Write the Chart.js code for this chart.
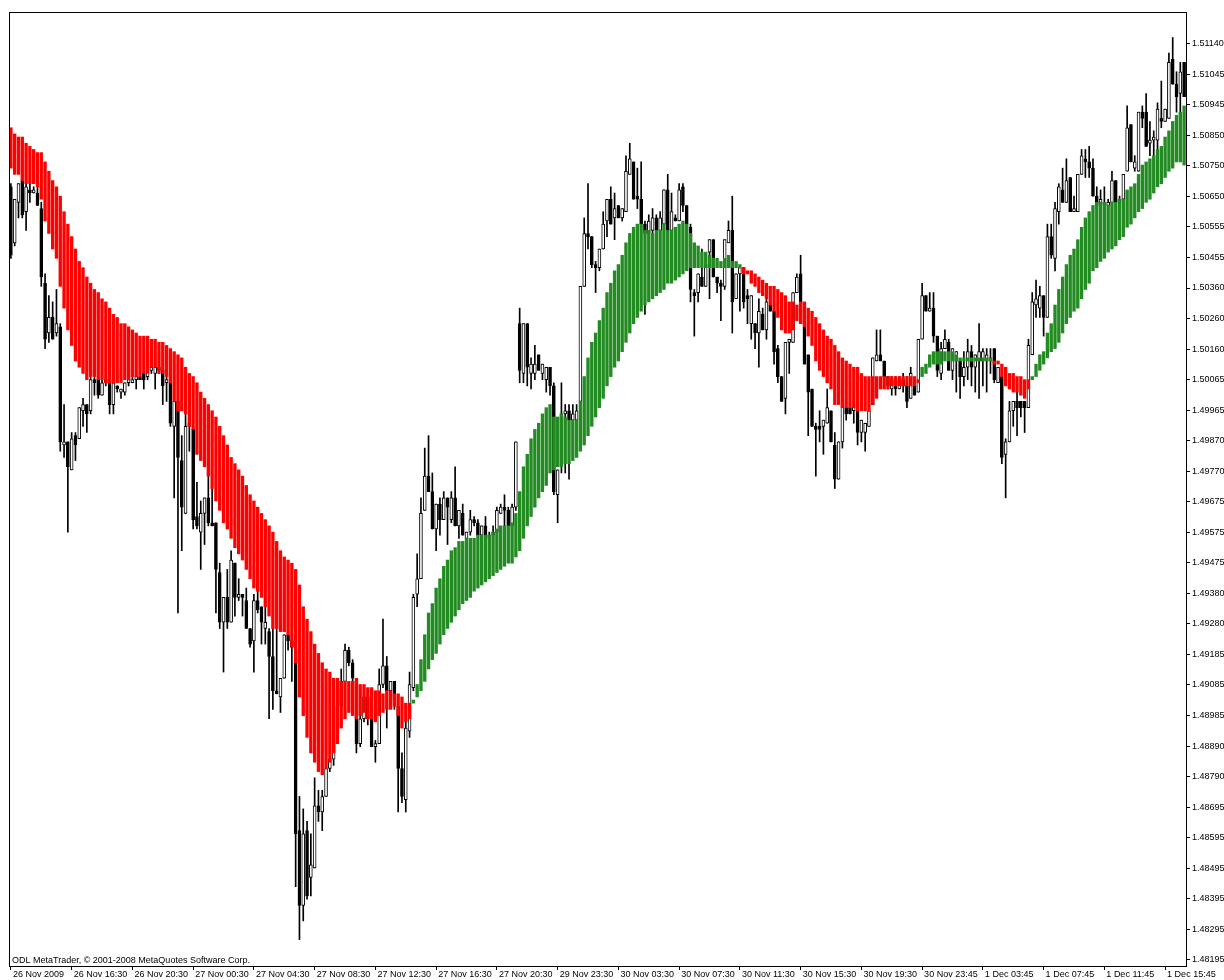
<!DOCTYPE html>
<html>
<head>
<meta charset="utf-8">
<title>EURUSD M15 - Heiken Ashi Smoothed</title>
<script src="https://cdn.jsdelivr.net/npm/chart.js@4"></script>
<style>
  html, body { margin: 0; padding: 0; background: #fff; }
  canvas { display: block; }
</style>
</head>
<body>
<canvas id="chart" width="1224" height="980"></canvas>
<script>
const xTickLabels = ["26 Nov 2009","26 Nov 16:30","26 Nov 20:30","27 Nov 00:30","27 Nov 04:30","27 Nov 08:30","27 Nov 12:30","27 Nov 16:30","27 Nov 20:30","29 Nov 23:30","30 Nov 03:30","30 Nov 07:30","30 Nov 11:30","30 Nov 15:30","30 Nov 19:30","30 Nov 23:45","1 Dec 03:45","1 Dec 07:45","1 Dec 11:45","1 Dec 15:45"];
const yTickLabels = ["1.48195","1.48295","1.48395","1.48495","1.48595","1.48695","1.48790","1.48890","1.48985","1.49085","1.49185","1.49280","1.49380","1.49475","1.49575","1.49675","1.49770","1.49870","1.49965","1.50065","1.50160","1.50260","1.50360","1.50455","1.50555","1.50650","1.50750","1.50850","1.50945","1.51045","1.51140"];
const yMin = 1.48175, yMax = 1.51242;
const copyright = "ODL MetaTrader, \u00a9 2001-2008 MetaQuotes Software Corp.";

// price candles, 15 min bars
const opens = [
1.5068,1.5050,1.5063,1.5070,1.5060,1.5067,1.5066,1.5066,1.5061,1.5037,
1.5021,1.5026,1.5021,1.5023,1.4985,1.4986,1.4977,1.4988,1.4987,1.4996,
1.4998,1.4996,1.5006,1.5006,1.5001,1.5005,1.5006,1.4998,1.5004,1.5002,
1.5002,1.5005,1.5005,1.5006,1.5007,1.5008,1.5007,1.5009,1.5008,1.5010,
1.5009,1.5005,1.5005,1.4991,1.4999,1.4980,1.4963,1.4991,1.4990,1.4962,
1.4957,1.4963,1.4968,1.4960,1.4960,1.4944,1.4928,1.4936,1.4928,1.4947,
1.4936,1.4937,1.4935,1.4926,1.4922,1.4935,1.4933,1.4926,1.4925,1.4917,
1.4906,1.4904,1.4910,1.4924,1.4922,1.4919,1.4861,1.4837,1.4861,1.4846,
1.4849,1.4869,1.4867,1.4872,1.4881,1.4884,1.4892,1.4901,1.4909,1.4919,
1.4915,1.4909,1.4889,1.4897,1.4904,1.4897,1.4888,1.4889,1.4908,1.4914,
1.4906,1.4909,1.4901,1.4881,1.4871,1.4893,1.4907,1.4937,1.4942,1.4964,
1.4975,1.4970,1.4958,1.4966,1.4961,1.4968,1.4961,1.4968,1.4959,1.4963,
1.4955,1.4957,1.4961,1.4960,1.4956,1.4959,1.4956,1.4956,1.4957,1.4963,
1.4965,1.4964,1.4959,1.4965,1.5024,1.5008,1.5024,1.5008,1.5008,1.5014,
1.5008,1.5006,1.5010,1.5004,1.4969,1.4978,1.4995,1.4996,1.4993,1.4993,
1.4999,1.5036,1.5053,1.5052,1.5043,1.5042,1.5048,1.5057,1.5064,1.5058,
1.5062,1.5058,1.5060,1.5072,1.5076,1.5065,1.5064,1.5056,1.5053,1.5054,
1.5058,1.5054,1.5056,1.5067,1.5054,1.5058,1.5057,1.5068,1.5062,1.5055,
1.5034,1.5034,1.5039,1.5036,1.5047,1.5051,1.5039,1.5037,1.5036,1.5050,
1.5054,1.5032,1.5040,1.5042,1.5033,1.5024,1.5024,1.5021,1.5027,1.5022,
1.5030,1.5028,1.5016,1.5007,1.5000,1.5018,1.5018,1.5034,1.5040,1.5023,
1.5014,1.5003,1.4991,1.4991,1.4991,1.4992,1.4996,1.4985,1.4974,1.4986,
1.4997,1.4997,1.4996,1.4996,1.4989,1.4989,1.4991,1.4998,1.5012,1.5014,
1.5012,1.5007,1.5003,1.5006,1.5003,1.5006,1.5004,1.5000,1.5004,1.5002,
1.5019,1.5033,1.5028,1.5029,1.5020,1.5008,1.5016,1.5018,1.5009,1.5012,
1.5012,1.5007,1.5010,1.5015,1.5010,1.5012,1.5012,1.5012,1.5012,1.5016,
1.5005,1.5007,1.4982,1.4986,1.4996,1.4999,1.4999,1.4999,1.4997,1.5014,
1.5030,1.5029,1.5033,1.5026,1.5052,1.5045,1.5060,1.5067,1.5063,1.5071,
1.5060,1.5060,1.5072,1.5077,1.5076,1.5074,1.5065,1.5063,1.5063,1.5062,
1.5063,1.5070,1.5063,1.5064,1.5073,1.5088,1.5074,1.5073,1.5092,1.5092,
1.5082,1.5083,1.5083,1.5090,1.5089,1.5090,1.5109,1.5101,1.5098,1.5108];
const highs = [
1.5069,1.5064,1.5069,1.5071,1.5069,1.5069,1.5068,1.5068,1.5063,1.5040,
1.5033,1.5031,1.5035,1.5024,1.4998,1.4986,1.4989,1.4989,1.4997,1.5000,
1.4998,1.5007,1.5007,1.5006,1.5006,1.5007,1.5006,1.5005,1.5004,1.5003,
1.5005,1.5006,1.5007,1.5007,1.5008,1.5008,1.5009,1.5010,1.5010,1.5010,
1.5009,1.5007,1.5005,1.4999,1.4999,1.4988,1.4995,1.4995,1.4990,1.4973,
1.4967,1.4968,1.4975,1.4971,1.4960,1.4947,1.4936,1.4945,1.4951,1.4947,
1.4942,1.4937,1.4939,1.4926,1.4937,1.4938,1.4933,1.4936,1.4926,1.4926,
1.4926,1.4910,1.4924,1.4925,1.4924,1.4919,1.4872,1.4868,1.4864,1.4860,
1.4878,1.4874,1.4874,1.4881,1.4885,1.4893,1.4903,1.4913,1.4921,1.4920,
1.4916,1.4910,1.4903,1.4905,1.4906,1.4898,1.4890,1.4913,1.4929,1.4917,
1.4909,1.4909,1.4903,1.4886,1.4896,1.4912,1.4937,1.4950,1.4968,1.4984,
1.4988,1.4976,1.4966,1.4968,1.4970,1.4968,1.4970,1.4978,1.4964,1.4966,
1.4957,1.4964,1.4962,1.4961,1.4959,1.4962,1.4957,1.4959,1.4965,1.4966,
1.4969,1.4965,1.4966,1.4986,1.5029,1.5024,1.5024,1.5013,1.5017,1.5014,
1.5011,1.5010,1.5010,1.5005,1.4977,1.5005,1.4998,1.4998,1.4998,1.4998,
1.5036,1.5058,1.5069,1.5052,1.5044,1.5048,1.5060,1.5064,1.5068,1.5066,
1.5062,1.5061,1.5078,1.5082,1.5076,1.5074,1.5076,1.5057,1.5059,1.5061,
1.5059,1.5060,1.5067,1.5072,1.5066,1.5059,1.5069,1.5069,1.5062,1.5056,
1.5035,1.5040,1.5048,1.5043,1.5051,1.5051,1.5039,1.5038,1.5051,1.5057,
1.5065,1.5040,1.5042,1.5042,1.5035,1.5033,1.5024,1.5032,1.5029,1.5032,
1.5031,1.5028,1.5017,1.5007,1.5018,1.5019,1.5034,1.5040,1.5046,1.5023,
1.5014,1.5003,1.4992,1.4996,1.4993,1.5003,1.4996,1.4989,1.4986,1.4998,
1.4997,1.4998,1.4997,1.4996,1.4993,1.4992,1.4996,1.5013,1.5022,1.5022,
1.5012,1.5007,1.5007,1.5007,1.5007,1.5008,1.5007,1.5010,1.5004,1.5019,
1.5037,1.5033,1.5034,1.5034,1.5020,1.5018,1.5022,1.5019,1.5016,1.5015,
1.5012,1.5015,1.5019,1.5017,1.5014,1.5024,1.5016,1.5016,1.5016,1.5016,
1.5010,1.5007,1.4987,1.4999,1.4999,1.5003,1.4999,1.4999,1.5019,1.5034,
1.5038,1.5036,1.5033,1.5056,1.5056,1.5063,1.5069,1.5074,1.5077,1.5071,
1.5065,1.5072,1.5080,1.5080,1.5081,1.5077,1.5068,1.5067,1.5068,1.5064,
1.5073,1.5070,1.5065,1.5072,1.5094,1.5088,1.5078,1.5092,1.5094,1.5098,
1.5089,1.5086,1.5095,1.5102,1.5093,1.5111,1.5116,1.5105,1.5108,1.5108];
const lows = [
1.5045,1.5049,1.5058,1.5058,1.5054,1.5063,1.5066,1.5062,1.5036,1.5016,
1.5018,1.5019,1.5020,1.4983,1.4981,1.4957,1.4977,1.4980,1.4987,1.4991,
1.4989,1.4995,1.5001,1.5000,1.5001,1.5004,1.4995,1.4995,1.5002,1.5000,
1.5001,1.5004,1.5005,1.5003,1.5006,1.5003,1.5006,1.5008,1.5003,1.5008,
1.4998,1.4999,1.4991,1.4968,1.4931,1.4951,1.4963,1.4983,1.4958,1.4958,
1.4945,1.4953,1.4959,1.4959,1.4931,1.4926,1.4912,1.4926,1.4928,1.4930,
1.4935,1.4930,1.4926,1.4920,1.4912,1.4931,1.4921,1.4921,1.4897,1.4900,
1.4905,1.4899,1.4910,1.4919,1.4909,1.4843,1.4826,1.4832,1.4839,1.4840,
1.4849,1.4864,1.4861,1.4872,1.4880,1.4882,1.4889,1.4899,1.4909,1.4914,
1.4909,1.4886,1.4888,1.4896,1.4895,1.4888,1.4883,1.4889,1.4907,1.4894,
1.4903,1.4900,1.4867,1.4870,1.4867,1.4891,1.4906,1.4933,1.4942,1.4964,
1.4970,1.4958,1.4951,1.4956,1.4961,1.4953,1.4960,1.4959,1.4955,1.4956,
1.4954,1.4956,1.4959,1.4956,1.4955,1.4955,1.4955,1.4954,1.4956,1.4963,
1.4958,1.4956,1.4958,1.4964,1.5005,1.5005,1.5004,1.5003,1.5006,1.5009,
1.5006,1.5002,1.5001,1.4969,1.4960,1.4976,1.4976,1.4974,1.4992,1.4992,
1.4998,1.5036,1.5048,1.5042,1.5034,1.5041,1.5048,1.5052,1.5056,1.5051,
1.5058,1.5057,1.5060,1.5072,1.5064,1.5061,1.5056,1.5027,1.5052,1.5053,
1.5053,1.5053,1.5055,1.5053,1.5054,1.5057,1.5057,1.5060,1.5056,1.5031,
1.5020,1.5031,1.5036,1.5036,1.5032,1.5039,1.5034,1.5025,1.5035,1.5050,
1.5021,1.5032,1.5028,1.5029,1.5024,1.5019,1.5016,1.5010,1.5022,1.5019,
1.5028,1.5011,1.5005,1.4999,1.4995,1.5008,1.5018,1.5034,1.5024,1.5011,
1.4988,1.4991,1.4975,1.4986,1.4982,1.4992,1.4986,1.4971,1.4974,1.4984,
1.4993,1.4995,1.4992,1.4985,1.4986,1.4983,1.4991,1.4998,1.5012,1.5012,
1.5007,1.5003,1.5001,1.5001,1.5003,1.5002,1.4997,1.5000,1.5001,1.5002,
1.5019,1.5028,1.5028,1.5018,1.5007,1.5006,1.5016,1.5009,1.5006,1.5002,
1.5000,1.5004,1.5006,1.5004,1.5002,1.5000,1.5004,1.5002,1.5008,1.5005,
1.5005,1.4979,1.4968,1.4986,1.4991,1.4988,1.4994,1.4989,1.4997,1.5014,
1.5026,1.5026,1.5020,1.5026,1.5045,1.5041,1.5056,1.5063,1.5063,1.5060,
1.5060,1.5060,1.5072,1.5071,1.5071,1.5065,1.5062,1.5062,1.5062,1.5057,
1.5063,1.5063,1.5062,1.5064,1.5073,1.5076,1.5073,1.5073,1.5087,1.5081,
1.5078,1.5078,1.5079,1.5087,1.5089,1.5090,1.5101,1.5092,1.5092,1.5097];
const closes = [
1.5046,1.5064,1.5069,1.5059,1.5068,1.5066,1.5067,1.5062,1.5039,1.5019,
1.5026,1.5019,1.5024,1.4986,1.4986,1.4978,1.4987,1.4985,1.4997,1.4998,
1.4995,1.5006,1.5005,1.5001,1.5005,1.5006,1.4998,1.5005,1.5003,1.5003,
1.5005,1.5006,1.5006,1.5007,1.5006,1.5006,1.5009,1.5010,1.5010,1.5009,
1.5004,1.5006,1.4992,1.4999,1.4981,1.4965,1.4991,1.4992,1.4961,1.4959,
1.4963,1.4968,1.4960,1.4959,1.4945,1.4928,1.4936,1.4928,1.4948,1.4936,
1.4937,1.4936,1.4926,1.4921,1.4935,1.4932,1.4928,1.4928,1.4917,1.4906,
1.4905,1.4910,1.4924,1.4922,1.4920,1.4860,1.4837,1.4860,1.4840,1.4850,
1.4869,1.4867,1.4872,1.4881,1.4884,1.4892,1.4901,1.4909,1.4919,1.4915,
1.4910,1.4889,1.4897,1.4904,1.4897,1.4888,1.4889,1.4908,1.4914,1.4906,
1.4909,1.4903,1.4881,1.4872,1.4894,1.4908,1.4936,1.4942,1.4963,1.4975,
1.4970,1.4958,1.4966,1.4961,1.4968,1.4965,1.4968,1.4959,1.4964,1.4956,
1.4957,1.4961,1.4960,1.4956,1.4959,1.4956,1.4955,1.4957,1.4964,1.4965,
1.4964,1.4959,1.4965,1.4986,1.5009,1.5024,1.5010,1.5011,1.5011,1.5009,
1.5011,1.5010,1.5004,1.4970,1.4977,1.4995,1.4996,1.4993,1.4995,1.4996,
1.5036,1.5053,1.5052,1.5043,1.5042,1.5048,1.5056,1.5064,1.5056,1.5061,
1.5058,1.5061,1.5073,1.5077,1.5064,1.5064,1.5056,1.5053,1.5057,1.5058,
1.5054,1.5058,1.5067,1.5054,1.5060,1.5057,1.5067,1.5062,1.5056,1.5035,
1.5033,1.5040,1.5036,1.5043,1.5051,1.5039,1.5037,1.5036,1.5051,1.5054,
1.5031,1.5040,1.5042,1.5031,1.5032,1.5033,1.5021,1.5028,1.5022,1.5031,
1.5028,1.5015,1.5007,1.4999,1.5018,1.5019,1.5034,1.5039,1.5024,1.5011,
1.5002,1.4991,1.4990,1.4990,1.4993,1.4997,1.4986,1.4974,1.4986,1.4998,
1.4995,1.4995,1.4997,1.4989,1.4993,1.4992,1.4996,1.5013,1.5014,1.5012,
1.5007,1.5004,1.5006,1.5003,1.5006,1.5004,1.4999,1.5008,1.5001,1.5019,
1.5033,1.5028,1.5029,1.5020,1.5009,1.5016,1.5019,1.5009,1.5016,1.5015,
1.5007,1.5010,1.5015,1.5010,1.5014,1.5015,1.5015,1.5014,1.5013,1.5006,
1.5010,1.4981,1.4986,1.4996,1.4999,1.4997,1.4997,1.4997,1.5017,1.5031,
1.5032,1.5033,1.5026,1.5052,1.5046,1.5061,1.5068,1.5063,1.5070,1.5060,
1.5061,1.5072,1.5078,1.5076,1.5074,1.5065,1.5062,1.5064,1.5062,1.5063,
1.5070,1.5063,1.5064,1.5072,1.5087,1.5076,1.5076,1.5092,1.5090,1.5081,
1.5083,1.5084,1.5093,1.5089,1.5093,1.5108,1.5101,1.5097,1.5105,1.5097];

// Heiken Ashi Smoothed open / close (histogram)
const haOpen = [
1.5087,1.5085,1.5084,1.5084,1.5082,1.5081,1.5080,1.5079,1.5079,1.5076,
1.5073,1.5070,1.5068,1.5065,1.5060,1.5056,1.5052,1.5048,1.5044,1.5042,
1.5039,1.5037,1.5035,1.5034,1.5032,1.5031,1.5029,1.5027,1.5026,1.5024,
1.5024,1.5023,1.5022,1.5021,1.5020,1.5020,1.5020,1.5019,1.5019,1.5018,
1.5018,1.5017,1.5016,1.5015,1.5014,1.5013,1.5010,1.5008,1.5007,1.5005,
1.5002,1.5000,1.4998,1.4996,1.4994,1.4991,1.4988,1.4985,1.4981,1.4979,
1.4977,1.4975,1.4972,1.4969,1.4967,1.4965,1.4963,1.4961,1.4959,1.4957,
1.4954,1.4951,1.4949,1.4948,1.4947,1.4945,1.4940,1.4933,1.4929,1.4925,
1.4921,1.4918,1.4915,1.4913,1.4912,1.4910,1.4910,1.4909,1.4909,1.4909,
1.4909,1.4910,1.4908,1.4908,1.4907,1.4907,1.4906,1.4906,1.4905,1.4906,
1.4906,1.4905,1.4905,1.4904,1.4902,1.4902,1.4902,1.4904,1.4906,1.4909,
1.4913,1.4916,1.4918,1.4921,1.4924,1.4926,1.4928,1.4930,1.4932,1.4934,
1.4935,1.4936,1.4938,1.4939,1.4940,1.4941,1.4942,1.4943,1.4944,1.4945,
1.4946,1.4947,1.4947,1.4949,1.4951,1.4955,1.4959,1.4962,1.4965,1.4968,
1.4970,1.4972,1.4976,1.4977,1.4978,1.4978,1.4979,1.4979,1.4980,1.4981,
1.4983,1.4985,1.4988,1.4991,1.4994,1.4997,1.5000,1.5004,1.5007,1.5010,
1.5012,1.5015,1.5018,1.5021,1.5024,1.5026,1.5028,1.5030,1.5031,1.5032,
1.5033,1.5034,1.5035,1.5037,1.5037,1.5038,1.5039,1.5040,1.5041,1.5042,
1.5042,1.5042,1.5042,1.5042,1.5042,1.5042,1.5042,1.5042,1.5042,1.5042,
1.5042,1.5042,1.5042,1.5042,1.5041,1.5041,1.5040,1.5039,1.5038,1.5037,
1.5036,1.5036,1.5035,1.5034,1.5033,1.5031,1.5031,1.5030,1.5031,1.5031,
1.5029,1.5028,1.5026,1.5024,1.5022,1.5020,1.5019,1.5017,1.5015,1.5013,
1.5012,1.5011,1.5010,1.5010,1.5008,1.5007,1.5007,1.5007,1.5007,1.5007,
1.5007,1.5007,1.5007,1.5007,1.5007,1.5007,1.5007,1.5007,1.5007,1.5006,
1.5007,1.5008,1.5010,1.5011,1.5011,1.5011,1.5012,1.5012,1.5012,1.5012,
1.5012,1.5012,1.5012,1.5012,1.5012,1.5012,1.5012,1.5012,1.5012,1.5012,
1.5012,1.5011,1.5010,1.5008,1.5008,1.5007,1.5007,1.5006,1.5006,1.5006,
1.5007,1.5009,1.5011,1.5013,1.5015,1.5016,1.5018,1.5021,1.5024,1.5026,
1.5028,1.5029,1.5032,1.5035,1.5037,1.5041,1.5042,1.5044,1.5045,1.5047,
1.5048,1.5049,1.5051,1.5052,1.5055,1.5056,1.5058,1.5060,1.5061,1.5063,
1.5064,1.5066,1.5068,1.5069,1.5071,1.5073,1.5074,1.5076,1.5076,1.5075];
const haClose = [
1.5074,1.5072,1.5072,1.5070,1.5069,1.5069,1.5069,1.5068,1.5064,1.5057,
1.5053,1.5048,1.5045,1.5036,1.5029,1.5022,1.5017,1.5012,1.5010,1.5008,
1.5006,1.5007,1.5007,1.5006,1.5006,1.5005,1.5005,1.5005,1.5005,1.5005,
1.5006,1.5006,1.5007,1.5007,1.5007,1.5008,1.5008,1.5010,1.5010,1.5008,
1.5008,1.5007,1.5005,1.4999,1.4996,1.4996,1.4995,1.4991,1.4990,1.4982,
1.4980,1.4978,1.4975,1.4971,1.4967,1.4964,1.4960,1.4958,1.4955,1.4952,
1.4950,1.4948,1.4945,1.4942,1.4939,1.4938,1.4936,1.4933,1.4930,1.4926,
1.4926,1.4925,1.4925,1.4924,1.4920,1.4915,1.4904,1.4898,1.4891,1.4886,
1.4883,1.4880,1.4879,1.4881,1.4883,1.4886,1.4889,1.4894,1.4897,1.4899,
1.4898,1.4897,1.4898,1.4899,1.4897,1.4897,1.4896,1.4898,1.4899,1.4900,
1.4900,1.4901,1.4898,1.4894,1.4896,1.4897,1.4903,1.4908,1.4916,1.4924,
1.4931,1.4934,1.4939,1.4942,1.4946,1.4948,1.4951,1.4952,1.4954,1.4954,
1.4955,1.4955,1.4955,1.4956,1.4956,1.4956,1.4956,1.4957,1.4958,1.4959,
1.4959,1.4959,1.4960,1.4963,1.4970,1.4978,1.4982,1.4987,1.4990,1.4992,
1.4995,1.4997,1.4998,1.4994,1.4994,1.4995,1.4994,1.4993,1.4993,1.4993,
1.4999,1.5007,1.5013,1.5018,1.5021,1.5025,1.5029,1.5034,1.5037,1.5041,
1.5043,1.5046,1.5050,1.5053,1.5055,1.5056,1.5056,1.5054,1.5054,1.5053,
1.5054,1.5054,1.5056,1.5054,1.5054,1.5055,1.5056,1.5057,1.5056,1.5053,
1.5050,1.5049,1.5047,1.5047,1.5046,1.5045,1.5045,1.5044,1.5045,1.5046,
1.5044,1.5044,1.5043,1.5040,1.5040,1.5037,1.5036,1.5034,1.5033,1.5032,
1.5030,1.5028,1.5026,1.5022,1.5021,1.5021,1.5022,1.5025,1.5024,1.5023,
1.5020,1.5017,1.5012,1.5009,1.5007,1.5005,1.5003,1.4998,1.4998,1.4997,
1.4997,1.4997,1.4997,1.4996,1.4996,1.4996,1.4996,1.4998,1.5000,1.5003,
1.5003,1.5003,1.5004,1.5004,1.5004,1.5004,1.5004,1.5004,1.5004,1.5005,
1.5010,1.5011,1.5014,1.5015,1.5015,1.5015,1.5015,1.5015,1.5015,1.5014,
1.5013,1.5013,1.5013,1.5013,1.5013,1.5013,1.5013,1.5013,1.5013,1.5011,
1.5011,1.5007,1.5004,1.5003,1.5002,1.5002,1.5001,1.5000,1.5003,1.5007,
1.5011,1.5014,1.5015,1.5021,1.5024,1.5030,1.5035,1.5039,1.5043,1.5046,
1.5048,1.5051,1.5055,1.5058,1.5060,1.5062,1.5063,1.5063,1.5063,1.5062,
1.5063,1.5063,1.5064,1.5064,1.5067,1.5068,1.5069,1.5072,1.5075,1.5076,
1.5077,1.5078,1.5080,1.5081,1.5084,1.5086,1.5089,1.5091,1.5092,1.5094];

const FONT = "'Liberation Sans', Arial, sans-serif";
Chart.defaults.font.family = FONT;
Chart.defaults.font.size = 9;
Chart.defaults.color = "#000";

const barLabels = closes.map((_, i) => i % 16 === 0 ? xTickLabels[i / 16] : "");
const bullish = closes.map((c, i) => c > opens[i]);

// window frame and copyright line
const framePlugin = {
  id: "frame",
  afterDatasetsDraw(chart) {
    const {ctx, chartArea: a} = chart;
    ctx.save();
    ctx.strokeStyle = "#000";
    ctx.lineWidth = 1;
    ctx.strokeRect(a.left + 0.5, a.top + 0.5, a.right - a.left, a.bottom - a.top);
    ctx.fillStyle = "#000";
    ctx.font = "9px " + FONT;
    ctx.textBaseline = "alphabetic";
    ctx.fillText(copyright, a.left + 3, a.bottom - 3);
    ctx.restore();
  }
};

new Chart(document.getElementById("chart"), {
  type: "bar",
  data: {
    labels: barLabels,
    datasets: [
      {
        label: "Heiken Ashi Smoothed",
        data: haOpen.map((o, i) => [o, haClose[i]]),
        backgroundColor: haOpen.map((o, i) => o > haClose[i] ? "#ff0000" : "#228b22"),
        barThickness: 2.7, minBarLength: 1, grouped: false, order: 0
      },
      {
        label: "body",
        data: opens.map((o, i) => [o, closes[i]]),
        backgroundColor: bullish.map(b => b ? "#ffffff" : "#000000"),
        borderColor: "#000000", borderWidth: 1, borderSkipped: false,
        barThickness: 3, minBarLength: 1, grouped: false, order: 1
      },
      {
        label: "wick",
        data: lows.map((l, i) => [l, highs[i]]),
        backgroundColor: "#000000",
        barThickness: 1, minBarLength: 1, grouped: false, order: 2
      }
    ]
  },
  options: {
    responsive: false,
    animation: false,
    events: [],
    layout: { padding: { left: 9, top: 12, right: 0, bottom: 0 }, autoPadding: false },
    plugins: { legend: { display: false }, tooltip: { enabled: false } },
    scales: {
      x: {
        type: "category",
        offset: true,
        grid: {
          offset: false, drawOnChartArea: false, drawTicks: true, tickLength: 4,
          color: c => barLabels[c.index] ? "#000" : "rgba(0,0,0,0)"
        },
        border: { display: true, color: "#000" },
        ticks: {
          autoSkip: false, maxRotation: 0, minRotation: 0, align: "start",
          labelOffset: 2, padding: -1,
          callback: (v, i) => barLabels[i]
        },
        afterFit: s => { s.height = 14; }
      },
      y: {
        position: "right",
        min: yMin, max: yMax,
        grid: { drawOnChartArea: false, drawTicks: true, tickLength: 4, color: "#000" },
        border: { display: true, color: "#000" },
        afterBuildTicks: s => {
          const lo = Number(yTickLabels[0]);
          const hi = Number(yTickLabels[yTickLabels.length - 1]);
          const step = (hi - lo) / (yTickLabels.length - 1);
          s.ticks = yTickLabels.map((_, j) => ({ value: lo + j * step }));
        },
        ticks: { padding: 2, font: { size: 9 }, callback: (v, i) => yTickLabels[i] },
        afterFit: s => { s.width = 38; }
      }
    }
  },
  plugins: [framePlugin]
});
</script>
</body>
</html>
